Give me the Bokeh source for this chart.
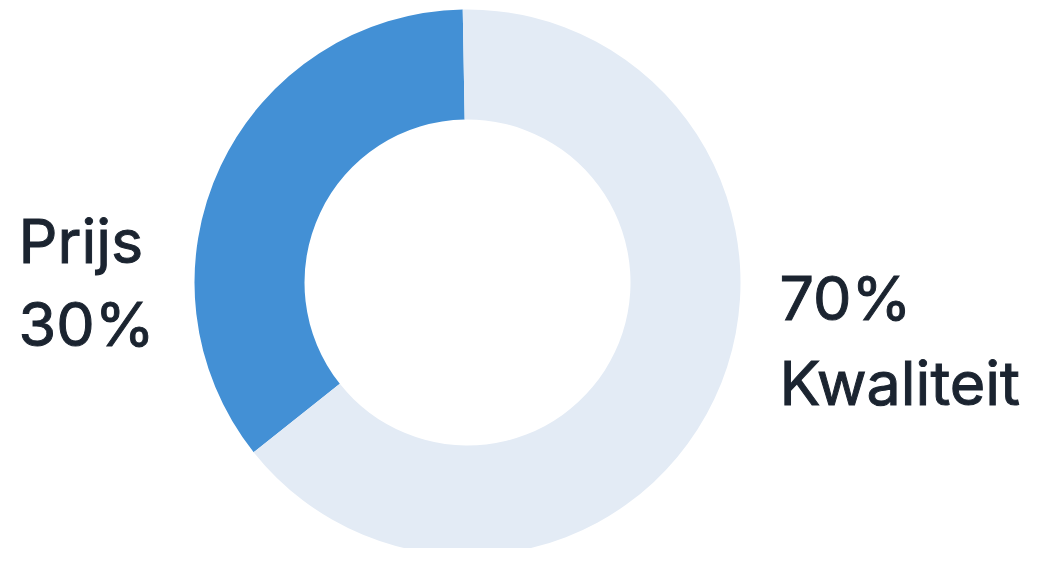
import numpy as np
from bokeh.plotting import figure
from bokeh.models import Range1d, ColumnDataSource
from bokeh.core.properties import value
from bokeh.embed import file_html
from bokeh.resources import INLINE

# Data
categories = ["Prijs", "Kwaliteit"]
pct_labels = ["30%", "70%"]
shares = [35.4, 64.6]          # angular share as drawn in the picture
colors = ["#4390d5", "#e3ebf5"]

W, H = 1022, 548
p = figure(width=W, height=H, output_backend="svg", toolbar_location=None,
           x_range=Range1d(0, W), y_range=Range1d(0, H), min_border=0)
p.axis.visible = False
p.grid.visible = False
p.outline_line_color = None
p.background_fill_color = "white"
p.border_fill_color = "white"

# convert picture coords (top-left origin) -> data coords
def px(x):
    return x
def py(y):
    return H - y

cx, cy = px(467), py(282)
r_out, r_in = 273, 163

fr = np.array(shares) / np.sum(shares)
start_deg = 91.0
ends = start_deg + np.cumsum(fr) * 360
starts = np.concatenate([[start_deg], ends[:-1]])
src = ColumnDataSource(dict(x=[cx] * len(shares), y=[cy] * len(shares),
                            start=np.radians(starts), end=np.radians(ends),
                            color=colors, cat=categories))
p.annular_wedge(x="x", y="y", inner_radius=r_in, outer_radius=r_out,
                start_angle="start", end_angle="end", fill_color="color",
                line_color=None, source=src)

font = value("Inter")
tc = "#1b2430"
fs = "61px"
# left label: name above pct
p.text(x=[px(18), px(18)], y=[py(240), py(323)], text=[categories[0], pct_labels[0]],
       text_font=font, text_font_size=fs, text_color=tc, text_outline_color=tc,
       text_align="left", text_baseline="alphabetic")
# right label: pct above name
p.text(x=[px(779), px(779)], y=[py(297), py(382)], text=[pct_labels[1], categories[1]],
       text_font=font, text_font_size=fs, text_color=tc, text_outline_color=tc,
       text_align="left", text_baseline="alphabetic")

open("out.html", "w").write(file_html(p, INLINE))
